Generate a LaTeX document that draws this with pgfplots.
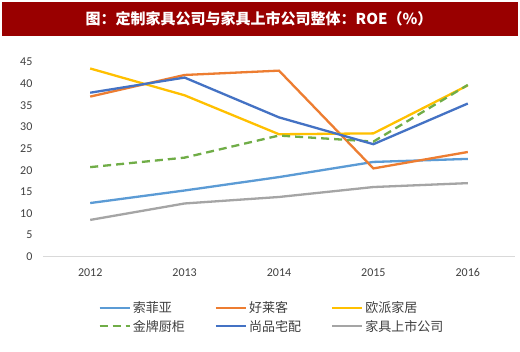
\documentclass[border=0pt]{standalone}
\usepackage{fontspec}
\setmainfont{Carlito}
\newfontfamily\cjk{Noto Sans CJK SC}
\usepackage{pgfplots}
\pgfplotsset{compat=1.18}
\definecolor{titlered}{HTML}{990000}
\definecolor{cA}{HTML}{5B9BD5}
\definecolor{cB}{HTML}{ED7D31}
\definecolor{cC}{HTML}{FFC000}
\definecolor{cD}{HTML}{70AD47}
\definecolor{cE}{HTML}{4472C4}
\definecolor{cF}{HTML}{A5A5A5}
\definecolor{ticktext}{HTML}{404040}
\begin{document}
\begin{tikzpicture}[x=1pt,y=1pt]
\useasboundingbox[fill=white] (0,0) rectangle (520,352);
\fill[titlered] (2,316) rectangle (518,350);
\node[text=white, font=\cjk\bfseries\fontsize{15}{18}\selectfont] at (259,333) {图：定制家具公司与家具上市公司整体：ROE（\%）};
\begin{axis}[
  at={(43pt,95.3pt)}, anchor=south west,
  scale only axis, width=472pt, height=194.7pt,
  xmin=-0.5, xmax=4.5, ymin=0, ymax=45,
  xtick={0,1,2,3,4}, xticklabels={2012,2013,2014,2015,2016},
  ytick={0,5,...,45},
  axis x line=bottom, axis y line=left,
  axis line style={-},
  x axis line style={draw=black!15, line width=0.8pt},
  y axis line style={draw=none},
  tick style={draw=none},
  /pgf/number format/assume math mode=true,
  ticklabel style={font=\fontsize{12}{14}\selectfont, text=ticktext},
  yticklabel style={xshift=-5pt},
  xticklabel style={yshift=-6pt},
  legend cell align=left,
  legend style={at={(0.485,-0.31)}, anchor=center, draw=none, fill=none,
    legend columns=3, font=\cjk\fontsize{13}{15}\selectfont, text=ticktext,
    /tikz/every even column/.append style={column sep=28pt},
    row sep=2pt, nodes={inner sep=2pt}},
  legend image code/.code={\draw[#1] (0pt,0pt) -- (30pt,0pt);},
  every axis plot/.append style={line width=2.3pt},
]
\addplot[cA] coordinates {(0,12.4) (1,15.3) (2,18.4) (3,21.9) (4,22.6)};
\addlegendentry{索菲亚}
\addplot[cB] coordinates {(0,37.0) (1,42.0) (2,43.0) (3,20.4) (4,24.2)};
\addlegendentry{好莱客}
\addplot[cC] coordinates {(0,43.5) (1,37.3) (2,28.3) (3,28.5) (4,39.6)};
\addlegendentry{欧派家居}
\addplot[cD, dash pattern=on 8pt off 5pt] coordinates {(0,20.7) (1,22.9) (2,28.0) (3,26.6) (4,39.7)};
\addlegendentry{金牌厨柜}
\addplot[cE] coordinates {(0,37.9) (1,41.4) (2,32.2) (3,26.0) (4,35.4)};
\addlegendentry{尚品宅配}
\addplot[cF] coordinates {(0,8.5) (1,12.3) (2,13.8) (3,16.1) (4,17.0)};
\addlegendentry{家具上市公司}
\end{axis}
\end{tikzpicture}
\end{document}
